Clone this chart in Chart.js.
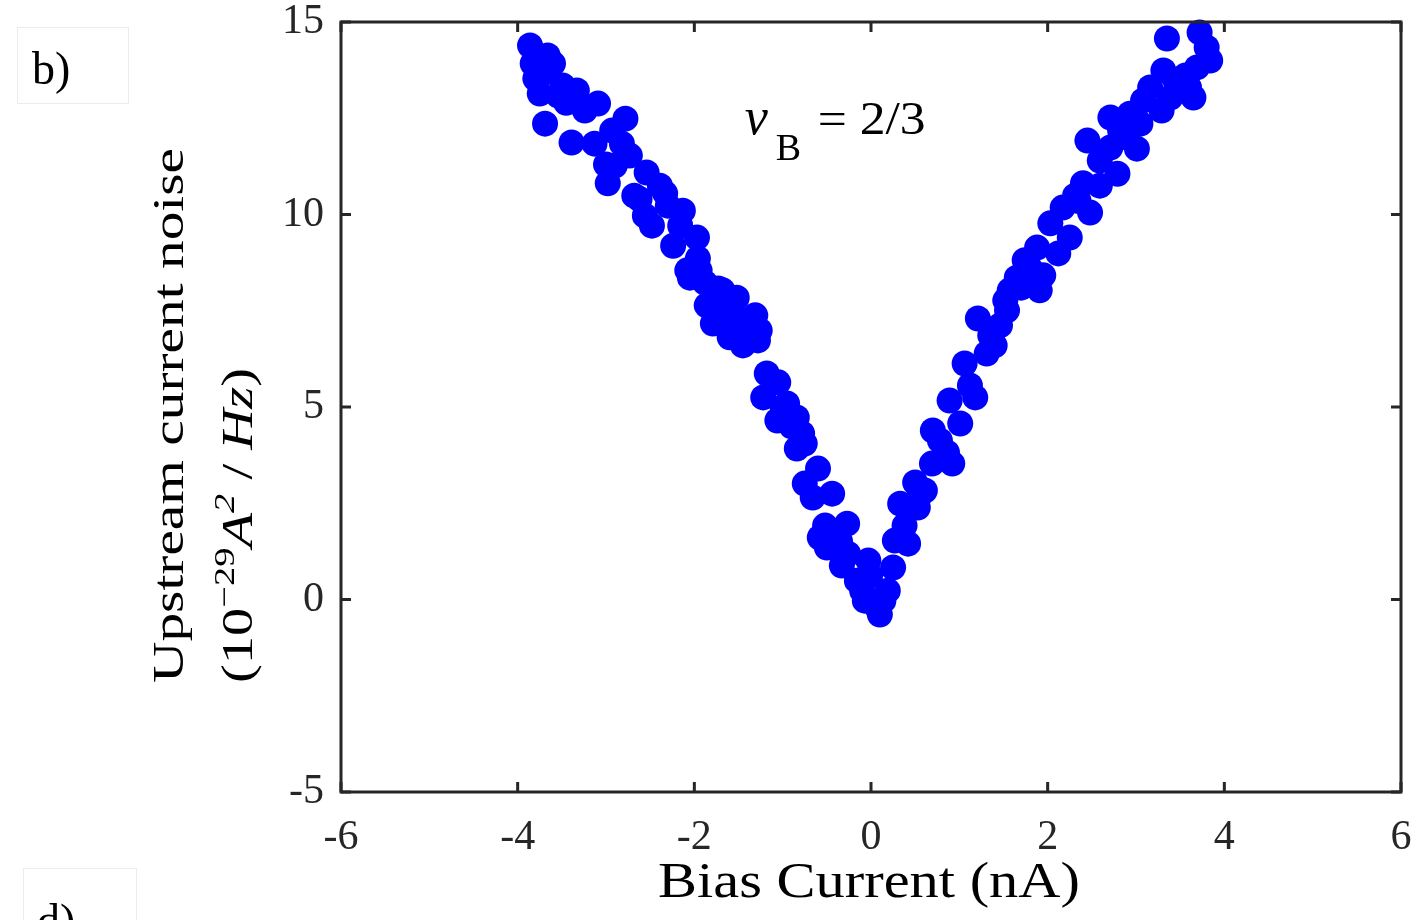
<!DOCTYPE html>
<html>
<head>
<meta charset="utf-8">
<script src="https://cdn.jsdelivr.net/npm/chart.js@4.4.0/dist/chart.umd.min.js"></script>
<style>
	html, body { margin: 0; padding: 0; background: #fff; }
	canvas { display: block; }
</style>
</head>
<body>
<canvas id="noise_canvas" width="1423" height="920"></canvas>
<script>
// bias current (nA) and upstream noise (1e-29 A^2/Hz)
const bias_current = [
	-3.86, -3.83, -3.66, -3.60, -3.80, -3.69, -3.75, -3.69, -3.49, -3.54,
	-3.33, -3.24, -3.09, -2.78, -2.93, -3.39, -3.13, -2.82, -2.90, -2.73,
	-2.98, -2.54, -2.68, -2.33, -2.39, -2.56, -2.30, -2.48, -2.13, -2.16,
	-1.97, -2.24, -1.96, -2.08, -1.94, -2.05, -1.88, -1.73, -1.68, -1.86,
	-1.77, -1.60, -1.52, -1.31, -1.43, -1.79, -1.60, -1.26, -1.28, -1.45,
	-1.18, -1.05, -1.22, -0.95, -1.06, -0.84, -0.78, -0.84, -0.75, -0.60,
	-0.75, -0.44, -0.66, -0.52, -0.27, -0.58, -0.50, -0.26, -0.33, -0.03,
	-0.16, -0.10, -0.07, 0.07, -0.01, 0.14, 0.10,
	0.19, 0.25, 0.27, 0.42, 0.33, 0.53, 0.50, 0.69, 0.92, 0.86,
	0.70, 1.01, 0.89, 1.18, 1.06, 1.31, 1.21, 1.46, 1.54, 1.65,
	1.91, 1.95, 1.88, 2.12, 2.25, 2.03, 2.17, 2.48, 2.40, 2.79,
	2.59, 2.45, 2.71, 3.01, 2.71, 2.93, 3.05, 3.08, 3.16, 3.39,
	3.65, 3.31, 3.69, 3.84, 3.80, 3.72, 3.35,
	1.74, 1.57, 2.82, 3.29, 3.50, 3.56, 2.59, 2.31, 1.35, 1.52,
	0.38, 0.61, 0.78, 1.12,
	-1.65, -1.50, -1.38, -1.70, -2.62, -3.00, -3.45, -1.00, -0.90, -0.35,
	1.80, 1.70, 2.35, 2.90, 3.45, 3.60, 0.55, 1.40
];
const noise = [
	14.39, 13.92, 14.13, 13.92, 13.53, 13.69, 13.14, 12.36, 13.35, 13.09,
	13.22, 12.70, 12.88, 12.49, 12.18, 11.87, 11.84, 11.84, 11.27, 11.53,
	10.81, 11.09, 10.49, 10.55, 10.75, 9.97, 10.23, 9.71, 10.10, 9.71,
	9.40, 9.19, 8.86, 8.55, 8.55, 8.36, 8.23, 8.08, 8.03, 7.64,
	7.77, 7.64, 7.84, 7.38, 7.25, 7.17, 6.81, 6.99, 6.73, 6.60,
	5.87, 5.64, 5.25, 5.09, 4.65, 4.73, 4.31, 3.92, 4.05, 3.40,
	3.01, 2.75, 2.65, 1.92, 1.97, 1.61, 1.35, 1.19, 0.88, 1.01,
	0.49, 0.23, -0.03, -0.21, 0.62, -0.03, -0.39,
	0.23, 0.83, 1.53, 1.45, 2.49, 2.39, 3.04, 3.53, 3.53, 3.82,
	4.39, 4.57, 5.17, 5.25, 6.13, 6.39, 7.30, 7.12, 7.51, 8.36,
	8.03, 8.42, 9.14, 8.99, 9.40, 9.77, 10.18, 10.05, 10.81, 11.06,
	11.40, 11.92, 11.74, 11.71, 12.52, 12.62, 12.36, 12.96, 13.30, 13.04,
	13.04, 13.74, 13.82, 14.00, 14.34, 14.73, 14.57,
	8.81, 8.03, 12.18, 12.70, 13.22, 13.61, 10.75, 10.49, 6.86, 7.77,
	1.92, 2.83, 4.13, 5.56,
	7.40, 7.10, 7.00, 7.95, 10.40, 11.30, 12.90, 5.00, 4.50, 1.50,
	8.60, 8.10, 10.35, 12.00, 13.45, 13.30, 2.70, 6.60
];
const x_ticks = [-6, -4, -2, 0, 2, 4, 6];
const y_ticks = [-5, 0, 5, 10, 15];

const axis_color = '#262626';
const serif = '"Liberation Serif", "Times New Roman", serif';

const points = bias_current.map((x, i) => ({ x: x, y: noise[i] }));

function runFont(r, size) {
	return `${r.italic ? 'italic ' : ''}${size * (r.scale || 1)}px ${serif}`;
}

// draw text runs at the origin, stretched along the baseline to a given width
function drawRuns(ctx, runs, size, target) {
	let w = 0;
	runs.forEach(r => { ctx.font = runFont(r, size); w += ctx.measureText(r.text).width; });
	ctx.scale(target / w, 1);
	let u = 0;
	runs.forEach(r => {
		ctx.font = runFont(r, size);
		ctx.fillText(r.text, u, -(r.rise || 0) * size);
		u += ctx.measureText(r.text).width;
	});
}

const boxPlugin = {
	id: 'box',
	afterDraw(chart) {
		const ctx = chart.ctx;
		const { left, right, top, bottom } = chart.chartArea;
		const xs = chart.scales.x, ys = chart.scales.y;
		const tl = 10;
		ctx.save();
		ctx.strokeStyle = axis_color;
		ctx.lineWidth = 3;
		ctx.beginPath();
		x_ticks.forEach(v => {
			const px = xs.getPixelForValue(v);
			ctx.moveTo(px, bottom); ctx.lineTo(px, bottom - tl);
			ctx.moveTo(px, top); ctx.lineTo(px, top + tl);
		});
		y_ticks.forEach(v => {
			const py = ys.getPixelForValue(v);
			ctx.moveTo(left, py); ctx.lineTo(left + tl, py);
			ctx.moveTo(right, py); ctx.lineTo(right - tl, py);
		});
		ctx.stroke();
		ctx.strokeRect(left, top, right - left, bottom - top);

		ctx.fillStyle = '#000';
		ctx.textBaseline = 'alphabetic';
		ctx.textAlign = 'left';

		// x title
		ctx.save();
		ctx.translate(658, 897);
		drawRuns(ctx, [{ text: 'Bias Current (nA)' }], 50, 422);
		ctx.restore();

		// y title, two lines
		const l2 = [
			{ text: '(10' },
			{ text: '\u221229', scale: 0.68, rise: 0.42 },
			{ text: 'A', italic: true },
			{ text: '2', italic: true, scale: 0.68, rise: 0.42 },
			{ text: ' / ' },
			{ text: 'Hz', italic: true },
			{ text: ')' }
		];
		ctx.save();
		ctx.translate(183, 683);
		ctx.rotate(-Math.PI / 2);
		drawRuns(ctx, [{ text: 'Upstream current noise' }], 44, 535);
		ctx.restore();
		ctx.save();
		ctx.translate(252, 683);
		ctx.rotate(-Math.PI / 2);
		drawRuns(ctx, l2, 44, 315);
		ctx.restore();

		// filling factor note
		const nx = xs.getPixelForValue(-1.43), ny = ys.getPixelForValue(12.1);
		ctx.font = `italic 52px ${serif}`;
		ctx.fillText('\u03bd', nx, ny);
		ctx.font = `38px ${serif}`;
		ctx.fillText('B', nx + 31, ny + 26);
		ctx.save();
		ctx.translate(nx + 73, ny);
		drawRuns(ctx, [{ text: '= 2/3' }], 46, 108);
		ctx.restore();

		// panel labels
		ctx.strokeStyle = '#ececec';
		ctx.lineWidth = 1;
		ctx.fillStyle = '#fff';
		ctx.fillRect(17.5, 27.5, 111, 76);
		ctx.strokeRect(17.5, 27.5, 111, 76);
		ctx.fillRect(23.5, 868.5, 113, 60);
		ctx.strokeRect(23.5, 868.5, 113, 60);
		ctx.fillStyle = '#000';
		ctx.font = `46px ${serif}`;
		ctx.fillText('b)', 32, 84);
		ctx.fillText('d)', 37, 936);
		ctx.restore();
	}
};

const chart = new Chart(document.getElementById('noise_canvas').getContext('2d'), {
	type: 'scatter',
	data: {
		datasets: [{
			data: points,
			backgroundColor: '#0000ff',
			borderWidth: 0,
			pointRadius: 13,
			pointHoverRadius: 13,
			clip: false
		}]
	},
	options: {
		responsive: false,
		animation: false,
		events: [],
		layout: { padding: { top: 22, right: 22, left: 0, bottom: 0 } },
		plugins: { legend: { display: false }, tooltip: { enabled: false } },
		scales: {
			x: {
				type: 'linear', min: -6, max: 6,
				afterBuildTicks: s => { s.ticks = x_ticks.map(v => ({ value: v })); },
				afterFit: s => { s.height = 128; s.paddingLeft = 0; s.paddingRight = 0; },
				grid: { display: false, drawTicks: false },
				border: { display: false },
				ticks: { color: axis_color, padding: 21, font: { family: serif, size: 42 } }
			},
			y: {
				type: 'linear', min: -5, max: 15,
				afterBuildTicks: s => { s.ticks = y_ticks.map(v => ({ value: v })); },
				afterFit: s => { s.width = 341; s.paddingTop = 0; s.paddingBottom = 0; },
				grid: { display: false, drawTicks: false },
				border: { display: false },
				ticks: { color: axis_color, padding: 17, font: { family: serif, size: 42 } }
			}
		}
	},
	plugins: [boxPlugin]
});
</script>
</body>
</html>
